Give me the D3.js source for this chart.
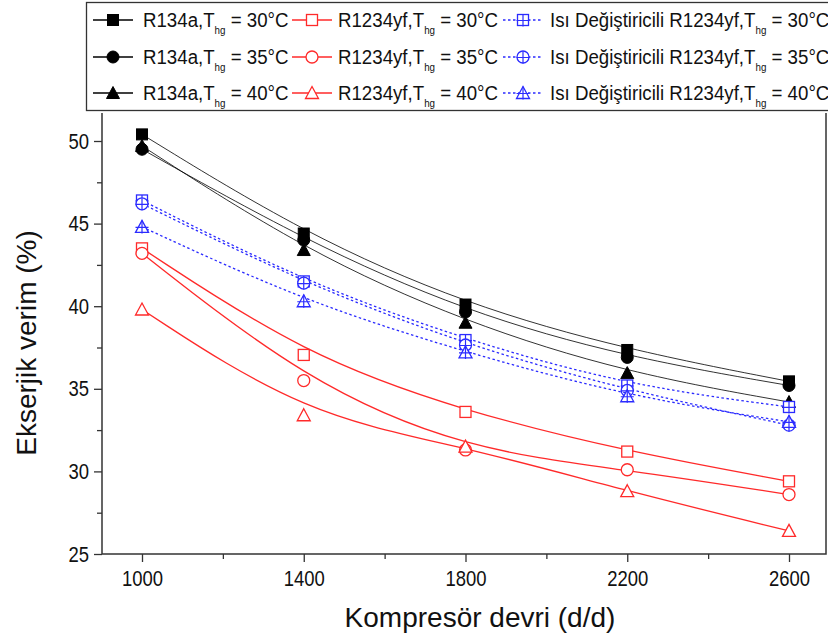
<!DOCTYPE html>
<html>
<head>
<meta charset="utf-8">
<script src="https://cdn.jsdelivr.net/npm/d3@7"></script>
<style>
    body { margin: 0; background: #fff; }
    svg { font-family: "Liberation Sans", Arial, sans-serif; }
</style>
</head>
<body>
<div id="chart"></div>
<script>
// compressor speed (d/d)
var rpm = [1000, 1400, 1800, 2200, 2600];

// exergy efficiency (%)
var r134a30 = [50.4, 44.4, 40.1, 37.35, 35.45];
var r134a35 = [49.5, 44.0, 39.65, 36.9, 35.2];
var r134a40 = [49.7, 43.4, 39.0, 35.95, 34.2];
var yf30 = [43.5, 37.05, 33.6, 31.2, 29.4];
var yf35 = [43.2, 35.5, 31.3, 30.1, 28.6];
var yf40 = [39.8, 33.4, 31.5, 28.8, 26.4];
var hx30 = [46.4, 41.5, 37.95, 35.2, 33.9];
var hx35 = [46.2, 41.4, 37.65, 34.9, 32.8];
var hx40 = [44.8, 40.3, 37.2, 34.55, 33.0];

var xTicks = [1000, 1400, 1800, 2200, 2600];
var xMinor = [1200, 1600, 2000, 2400];
var yTicks = [25, 30, 35, 40, 45, 50];
var yMinor = [27.5, 32.5, 37.5, 42.5, 47.5];

var series = [
    {name: "R134a,T", temp: "30", values: r134a30, color: "#000", shape: "square", filled: true, dash: null},
    {name: "R134a,T", temp: "35", values: r134a35, color: "#000", shape: "circle", filled: true, dash: null},
    {name: "R134a,T", temp: "40", values: r134a40, color: "#000", shape: "triangle", filled: true, dash: null},
    {name: "R1234yf,T", temp: "30", values: yf30, color: "#ff2a2a", shape: "square", filled: false, dash: null},
    {name: "R1234yf,T", temp: "35", values: yf35, color: "#ff2a2a", shape: "circle", filled: false, dash: null},
    {name: "R1234yf,T", temp: "40", values: yf40, color: "#ff2a2a", shape: "triangle", filled: false, dash: null},
    {name: "Isı Değiştiricili R1234yf,T", temp: "30", values: hx30, color: "#2b2bff", shape: "square", filled: false, cross: true, dash: "2.5,2.5"},
    {name: "Isı Değiştiricili R1234yf,T", temp: "35", values: hx35, color: "#2b2bff", shape: "circle", filled: false, cross: true, dash: "2.5,2.5"},
    {name: "Isı Değiştiricili R1234yf,T", temp: "40", values: hx40, color: "#2b2bff", shape: "triangle", filled: false, cross: true, dash: "2.5,2.5"}
];

var svg = d3.select("#chart")
        .append("svg")
        .attr("width", 828)
        .attr("height", 638),
    plot = {left: 102, right: 826, top: 113, bottom: 554},
    x = d3.scaleLinear()
        .domain([1000, 2600])
        .range([142, 789]),
    y = d3.scaleLinear()
        .domain([25, 50])
        .range([554, 141]),
    axisColor = "#333",
    squeeze = 0.84,
    legendSqueeze = 0.89;

var line = d3.line()
    .curve(d3.curveBasis)
    .x(function(d) { return x(d.x); })
    .y(function(d) { return y(d.y); });

function drawMarker(sel, s, cx, cy) {
    var g = sel.append("g").attr("transform", "translate(" + cx + "," + cy + ")");
    var fill = s.filled ? s.color : "#fff";
    var lw = s.filled ? 1 : 1.3;
    if (s.shape == "square") {
        g.append("rect").attr("x", -5.5).attr("y", -5.5).attr("width", 11).attr("height", 11)
            .attr("fill", fill).attr("stroke", s.color).attr("stroke-width", lw);
    } else if (s.shape == "circle") {
        g.append("circle").attr("r", 6)
            .attr("fill", fill).attr("stroke", s.color).attr("stroke-width", lw);
    } else {
        g.append("path").attr("d", "M0,-6.5L6.5,5.5L-6.5,5.5Z")
            .attr("fill", fill).attr("stroke", s.color).attr("stroke-width", lw);
    }
    if (s.cross) {
        var top = s.shape == "triangle" ? -6.5 : -5.5;
        g.append("path")
            .attr("d", "M0," + top + "V6.5M-6.5,0.5H6.5")
            .attr("stroke", s.color).attr("stroke-width", 1.2).attr("fill", "none");
    }
}

/* frame */
svg.append("path")
    .attr("d", "M" + plot.left + "," + plot.top + "V" + plot.bottom + "H" + plot.right + "V" + plot.top)
    .attr("fill", "none")
    .attr("stroke", axisColor)
    .attr("stroke-width", 1.5);

/* axes */
svg.append("g")
    .attr("class", "y-axis")
    .attr("transform", "translate(" + plot.left + ",0)")
    .call(d3.axisLeft(y).tickValues(yTicks).tickSize(8).tickPadding(5).tickFormat(d3.format("d")));
svg.append("g")
    .attr("transform", "translate(" + plot.left + ",0)")
    .call(d3.axisLeft(y).tickValues(yMinor).tickSize(5).tickFormat(""));
svg.append("g")
    .attr("class", "x-axis")
    .attr("transform", "translate(0," + plot.bottom + ")")
    .call(d3.axisBottom(x).tickValues(xTicks).tickSize(8).tickPadding(8).tickFormat(d3.format("d")));
svg.append("g")
    .attr("transform", "translate(0," + plot.bottom + ")")
    .call(d3.axisBottom(x).tickValues(xMinor).tickSize(5).tickFormat(""));

svg.selectAll(".domain").remove();
svg.selectAll(".tick line").attr("stroke", axisColor).attr("stroke-width", 1.3);
svg.selectAll(".tick text")
    .attr("fill", "#111")
    .attr("font-size", 22)
    .attr("font-family", "Liberation Sans, Arial, sans-serif");

// condensed look of the original labels
svg.selectAll(".y-axis .tick text")
    .attr("x", 0)
    .attr("transform", "translate(-13,0) scale(" + squeeze + ",1)");
svg.selectAll(".x-axis .tick text")
    .attr("transform", "scale(" + squeeze + ",1)");

/* axis titles */
svg.append("text")
    .attr("transform", "translate(36,343) rotate(-90)")
    .attr("text-anchor", "middle")
    .attr("font-size", 28)
    .attr("fill", "#111")
    .text("Ekserjik verim (%)");

svg.append("text")
    .attr("x", 480)
    .attr("y", 627)
    .attr("text-anchor", "middle")
    .attr("font-size", 28)
    .attr("fill", "#111")
    .text("Kompresör devri (d/d)");

/* lines and markers */
var groups = svg.selectAll(".series")
    .data(series)
    .enter()
    .append("g")
    .attr("class", "series");

groups.append("path")
    .attr("fill", "none")
    .attr("stroke", function(d) { return d.color; })
    .attr("stroke-width", function(d) { return d.color == "#000" ? 1 : 1.3; })
    .attr("stroke-opacity", function(d) { return d.color == "#000" ? 0.8 : 1; })
    .attr("stroke-dasharray", function(d) { return d.dash; })
    .attr("d", function(d) {
        return line(d.values.map(function(v, i) { return {x: rpm[i], y: v}; }));
    });

groups.each(function(s) {
    var g = d3.select(this);
    s.values.forEach(function(v, i) {
        drawMarker(g, s, x(rpm[i]), y(v));
    });
});

/* legend */
var legend = svg.append("g");
legend.append("rect")
    .attr("x", 86.5)
    .attr("y", 2.5)
    .attr("width", 760)
    .attr("height", 108)
    .attr("fill", "#fff")
    .attr("stroke", axisColor)
    .attr("stroke-width", 1.3);

var colX = [{line: 93, text: 143}, {line: 292, text: 338}, {line: 503, text: 550}],
    rowY = [20, 57, 93];

series.forEach(function(s, i) {
    var col = Math.floor(i / 3), row = i % 3,
        lx = colX[col].line, cy = rowY[row],
        item = legend.append("g");
    item.append("line")
        .attr("x1", lx).attr("x2", lx + 40)
        .attr("y1", cy).attr("y2", cy)
        .attr("stroke", s.color)
        .attr("stroke-width", s.color == "#000" ? 1.3 : 1.5)
        .attr("stroke-dasharray", s.dash);
    drawMarker(item, s, lx + 20, cy);
    var t = item.append("text")
        .attr("transform", "translate(" + colX[col].text + "," + (cy + 7) + ") scale(" + legendSqueeze + ",1)")
        .attr("font-size", 21)
        .attr("fill", "#111");
    t.append("tspan").text(s.name);
    t.append("tspan").attr("font-size", 11).attr("dy", 7).text("hg");
    t.append("tspan").attr("dy", -7).text(" = " + s.temp + "°C");
});
</script>
</body>
</html>
